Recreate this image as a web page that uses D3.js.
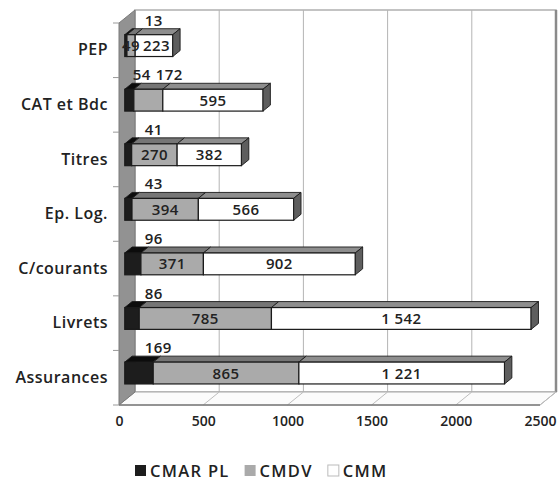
<!DOCTYPE html>
<html>
<head>
<meta charset="utf-8">
<script src="https://cdn.jsdelivr.net/npm/d3@7/dist/d3.min.js"></script>
<style>
  html, body { margin: 0; padding: 0; background: #fff; }
  svg { display: block; }
  text { font-family: "Open Sans", "DejaVu Sans", sans-serif; fill: #222; }
</style>
</head>
<body>
<svg id="chart" width="560" height="483"></svg>
<script>
// Encours par produit et par caisse
const categories = ["PEP", "CAT et Bdc", "Titres", "Ep. Log.", "C/courants", "Livrets", "Assurances"];
const cmarPL = [13, 54, 41, 43, 96, 86, 169];
const cmdv   = [49, 172, 270, 394, 371, 785, 865];
const cmm    = [223, 595, 382, 566, 902, 1542, 1221];
const seriesNames = ["CMAR PL", "CMDV", "CMM"];
const xTicks = [0, 500, 1000, 1500, 2000, 2500];

const seriesValues = [cmarPL, cmdv, cmm];

// fill colours: front face, top face, end face
const frontFill = ["#1d1d1d", "#aaaaaa", "#ffffff"];
const topFill   = ["#0c0c0c", "#767676", "#8e8e8e"];
const endFill   = "#5e5e5e";

const svg = d3.select("#chart");

// front plane of the 3-D box and the depth offset of its back plane
const DX = 16, DY = -13;
const x = d3.scaleLinear().domain([0, 2500]).range([119, 540]);
const y = d3.scaleBand().domain(categories).range([23, 405]).paddingInner(0.6).paddingOuter(0.3);
const yTop = y.range()[0], yBot = y.range()[1];

// bars sit between these depth fractions
const z0 = 0.36, z1 = 0.82;
const fx = DX * z0, fy = DY * z0;
const ddx = DX * (z1 - z0), ddy = DY * (z1 - z0);

const fmt = d3.formatLocale({ decimal: ",", thousands: " ", grouping: [3], currency: ["", " €"] }).format(",d");

// back wall
const bx0 = x(0) + DX, bx1 = x(2500) + DX, by0 = yTop + DY, by1 = yBot + DY;
svg.append("rect")
  .attr("x", bx0).attr("y", by0).attr("width", bx1 - bx0).attr("height", by1 - by0)
  .attr("fill", "#fff").attr("stroke", "#b0b0b0").attr("stroke-width", 1.5);
svg.append("line")
  .attr("x1", bx1).attr("x2", bx1).attr("y1", by0).attr("y2", by1)
  .attr("stroke", "#8a8a8a").attr("stroke-width", 2.5);

// vertical gridlines on the back wall, continued across the floor
const gridVals = xTicks.filter(v => v > 0 && v < 2500);
svg.selectAll("line.grid").data(gridVals).enter().append("line")
  .attr("class", "grid")
  .attr("x1", d => x(d) + DX).attr("x2", d => x(d) + DX)
  .attr("y1", by0).attr("y2", by1)
  .attr("stroke", "#b4b4b4").attr("stroke-width", 1);

// floor
svg.append("path")
  .attr("d", `M${x(0)},${yBot} L${bx0},${by1} L${bx1},${by1} L${x(2500)},${yBot} Z`)
  .attr("fill", "#fbfbfb").attr("stroke", "#a8a8a8").attr("stroke-width", 1);
svg.selectAll("line.floorgrid").data(xTicks.filter(v => v > 0)).enter().append("line")
  .attr("class", "floorgrid")
  .attr("x1", d => x(d) + DX).attr("x2", d => x(d))
  .attr("y1", by1).attr("y2", yBot)
  .attr("stroke", "#bdbdbd").attr("stroke-width", 1);
svg.append("line")
  .attr("x1", x(0)).attr("x2", x(2500)).attr("y1", yBot).attr("y2", yBot)
  .attr("stroke", "#555").attr("stroke-width", 1.2);

// left wall
svg.append("path")
  .attr("d", `M${x(0)},${yTop} L${bx0},${by0} L${bx0},${by1} L${x(0)},${yBot} Z`)
  .attr("fill", "#929292").attr("stroke", "#7a7a7a").attr("stroke-width", 1);

// category tick marks on the wall edge
const bandEdges = categories.map(c => y(c) - y.step() * y.paddingInner() / 2).concat([yBot]);
svg.selectAll("line.ctick").data(bandEdges).enter().append("line")
  .attr("class", "ctick")
  .attr("x1", x(0) - 6).attr("x2", x(0))
  .attr("y1", d => d).attr("y2", d => d)
  .attr("stroke", "#999").attr("stroke-width", 1);

// stacked bars
const rows = categories.map((c, i) => {
  let acc = 0;
  const segs = seriesValues.map((vals, s) => {
    const seg = { cat: c, s, value: vals[i], start: acc, end: acc + vals[i] };
    acc += vals[i];
    return seg;
  });
  return { cat: c, segs, total: acc };
});

const barG = svg.append("g");
rows.forEach(row => {
  const yt = y(row.cat) + fy, yb = yt + y.bandwidth();
  const g = barG.append("g");
  row.segs.forEach(seg => {
    const xs = x(seg.start) + fx, xe = x(seg.end) + fx;
    g.append("path")
      .attr("d", `M${xs},${yt} L${xs + ddx},${yt + ddy} L${xe + ddx},${yt + ddy} L${xe},${yt} Z`)
      .attr("fill", topFill[seg.s]).attr("stroke", "#1a1a1a").attr("stroke-width", 0.9);
    g.append("rect")
      .attr("x", xs).attr("y", yt).attr("width", xe - xs).attr("height", yb - yt)
      .attr("fill", frontFill[seg.s]).attr("stroke", "#1a1a1a").attr("stroke-width", 1.2);
  });
  const xe = x(row.total) + fx;
  g.append("path")
    .attr("d", `M${xe},${yt} L${xe + ddx},${yt + ddy} L${xe + ddx},${yb + ddy} L${xe},${yb} Z`)
    .attr("fill", endFill).attr("stroke", "#1a1a1a").attr("stroke-width", 0.9);
});

// value labels: small values are lifted above the bar, the rest sit in their segment
const liftedCmdv = new Set(["CAT et Bdc"]);
const labelG = svg.append("g").attr("font-size", 15).attr("font-weight", 600).attr("letter-spacing", 0.4);
rows.forEach(row => {
  const yt = y(row.cat) + fy, yb = yt + y.bandwidth();
  const lifted = row.segs.filter(seg => seg.s === 0 || (seg.s === 1 && liftedCmdv.has(row.cat)));
  let cursor = x(0) + fx + (lifted.length > 1 ? 8 : 20);
  lifted.forEach(seg => {
    const t = labelG.append("text")
      .attr("x", cursor).attr("y", yt - 9)
      .text(fmt(seg.value));
    cursor += t.node().getComputedTextLength() + 5;
  });
  // inside labels, pushed right when a narrow segment's label would run into the next one
  let lastRight = -Infinity;
  row.segs.filter(seg => !lifted.includes(seg)).forEach(seg => {
    const t = labelG.append("text")
      .attr("y", (yt + yb) / 2 + 5.5)
      .attr("text-anchor", "middle")
      .text(fmt(seg.value));
    const w = t.node().getComputedTextLength();
    const cx = Math.max((x(seg.start) + x(seg.end)) / 2 + fx, lastRight + 3 + w / 2);
    t.attr("x", cx);
    lastRight = cx + w / 2;
  });
});

// category axis labels
svg.append("g")
  .attr("transform", `translate(${x(0) - 11},0)`)
  .call(d3.axisLeft(y).tickSize(0).tickPadding(0))
  .call(g => g.select(".domain").remove())
  .selectAll("text")
  .attr("font-size", 16).attr("font-weight", 600).attr("letter-spacing", 0.5)
  .attr("font-family", "\"Open Sans\", sans-serif").attr("fill", "#222");

// value axis labels
svg.append("g")
  .attr("transform", `translate(0,${yBot})`)
  .call(d3.axisBottom(x).tickValues(xTicks).tickFormat(d3.format("d")).tickSize(0).tickPadding(11))
  .call(g => g.select(".domain").remove())
  .selectAll("text")
  .attr("font-size", 14).attr("font-weight", 600)
  .attr("font-family", "\"Open Sans\", sans-serif").attr("fill", "#222");

// legend
const legend = svg.append("g").attr("transform", "translate(135,471)");
let lx = 0;
seriesNames.forEach((name, s) => {
  legend.append("rect")
    .attr("x", lx).attr("y", -6).attr("width", 11).attr("height", 11)
    .attr("fill", frontFill[s]).attr("stroke", s === 2 ? "#bbb" : "none");
  const t = legend.append("text")
    .attr("x", lx + 15).attr("y", 6)
    .attr("font-size", 16.5).attr("font-weight", 600).attr("letter-spacing", 1.3)
    .text(name);
  lx += 15 + t.node().getComputedTextLength() + 15;
});
</script>
</body>
</html>
